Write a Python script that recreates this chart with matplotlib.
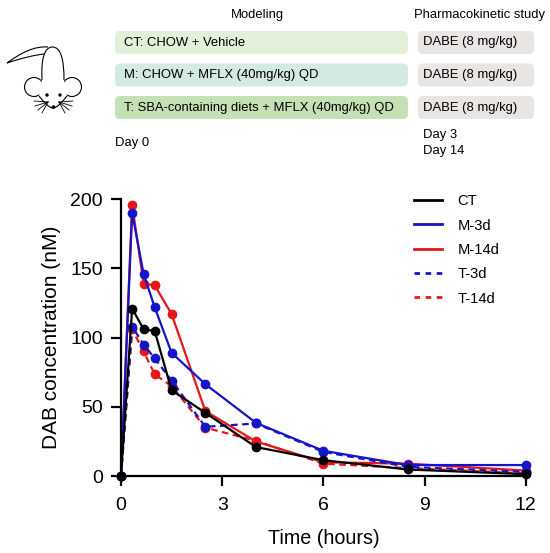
import matplotlib
matplotlib.use("Agg")
import matplotlib.pyplot as plt
from matplotlib.patches import FancyBboxPatch, Circle, PathPatch
from matplotlib.path import Path
from matplotlib.lines import Line2D

plt.rcParams['font.family'] = ['Liberation Sans', 'DejaVu Sans']

# sampling times (hours)
time_h = [0, 0.33, 0.67, 1, 1.5, 2.5, 4, 6, 8.5, 12]

# DAB concentration (nM)
ct = [0, 121, 106, 104.7, 62, 45.7, 21, 11.5, 4.8, 1.4]
m_3d = [0, 190, 146, 121.8, 89, 66.4, 38.5, 18.3, 8, 8]
m_14d = [0, 196, 139, 137.7, 117, 47, 25, 10, 9, 4]
t_3d = [0, 108, 95, 85, 69, 35.6, 38, 17.5, 6.7, 3]
t_14d = [0, 106, 90, 73.4, 65, 35, 25.5, 9, 5.8, 2]

group_labels = ["CT: CHOW + Vehicle",
                "M: CHOW + MFLX (40mg/kg) QD",
                "T: SBA-containing diets + MFLX (40mg/kg) QD"]
group_colors = ["#e2efd9", "#d4e9e2", "#c6e0b6"]
pk_label = "DABE (8 mg/kg)"

BLUE = "#1414c8"
RED = "#e5161c"

fig = plt.figure(figsize=(5.5, 5.53), dpi=100)

# ---- top schematic, drawn in pixel coords ----
top = fig.add_axes([0, 0, 1, 1])
top.set_xlim(0, 550)
top.set_ylim(553, 0)
top.axis('off')
top.patch.set_alpha(0)

top.text(257, 15, "Modeling", ha='center', va='center', fontsize=9.4)
top.text(479, 15, "Pharmacokinetic study", ha='center', va='center', fontsize=9.4)

box_tops = [31, 63.5, 96]
for y0, lab, col in zip(box_tops, group_labels, group_colors):
    top.add_patch(FancyBboxPatch((115, y0), 293, 23,
                                 boxstyle="round,pad=0,rounding_size=5",
                                 fc=col, ec='none'))
    top.text(124, y0 + 11.5, lab, ha='left', va='center', fontsize=9.4)
    top.add_patch(FancyBboxPatch((418, y0), 116, 23,
                                 boxstyle="round,pad=0,rounding_size=5",
                                 fc="#e9e5e2", ec='none'))
    top.text(423, y0 + 11.5, pk_label, ha='left', va='center', fontsize=9.4)

top.text(115, 143, "Day 0", ha='left', va='center', fontsize=9.4)
top.text(423, 135, "Day 3", ha='left', va='center', fontsize=9.4)
top.text(423, 151, "Day 14", ha='left', va='center', fontsize=9.4)

# mouse sketch
lw_m = 0.8
C4 = Path.CURVE4
tail = Path([(7, 63), (22, 52), (35, 46), (48, 47),
             (48, 50), (7, 63), (22, 58), (35, 55), (44, 54)],
            [Path.MOVETO, C4, C4, C4, Path.MOVETO, Path.MOVETO, C4, C4, C4])
top.add_patch(PathPatch(tail, fc='none', ec='k', lw=lw_m, zorder=1))
top.add_patch(Circle((34, 87), 9.5, fc='white', ec='k', lw=lw_m, zorder=2))
top.add_patch(Circle((72, 87), 9.5, fc='white', ec='k', lw=lw_m, zorder=2))
head = Path([(42, 80), (41, 60), (44, 47), (52.5, 47), (61, 47), (64, 60), (64, 80),
             (67, 96), (62, 102), (57, 108), (53, 108), (49, 108), (44, 102), (39, 96),
             (42, 80)],
            [Path.MOVETO, C4, C4, C4, C4, C4, C4,
             Path.LINETO, C4, C4, C4, C4, C4, C4, Path.CLOSEPOLY])
top.add_patch(PathPatch(head, fc='white', ec='none', zorder=3))
outline = Path([(42, 80), (41, 60), (44, 47), (52.5, 47), (61, 47), (64, 60), (64, 80),
                (39, 96), (44, 102), (49, 108), (53, 108), (57, 108), (62, 102), (67, 96)],
               [Path.MOVETO, C4, C4, C4, C4, C4, C4,
                Path.MOVETO, C4, C4, C4, C4, C4, C4])
top.add_patch(PathPatch(outline, fc='none', ec='k', lw=lw_m, zorder=4))
top.add_patch(Circle((47, 95), 1.7, fc='k', ec='none', zorder=5))
top.add_patch(Circle((60, 95), 1.7, fc='k', ec='none', zorder=5))
top.add_patch(Circle((53.5, 107), 1.8, fc='k', ec='none', zorder=5))
for ex, ey in [(34, 101), (35, 106), (38, 110), (42, 113)]:
    top.plot([48, ex], [102, ey], color='k', lw=0.6, zorder=5)
    top.plot([59, 107 - ex], [102, ey], color='k', lw=0.6, zorder=5)

# ---- PK curve ----
ax = fig.add_axes([0.22, 0.139, 0.736, 0.501])

series = [
    (m_14d, RED, '-', "M-14d"),
    (m_3d, BLUE, '-', "M-3d"),
    (t_14d, RED, '--', "T-14d"),
    (t_3d, BLUE, '--', "T-3d"),
    (ct, 'k', '-', "CT"),
]
for vals, col, ls, lab in series:
    ax.plot(time_h, vals, color=col, ls=ls, lw=1.6, marker='o', ms=6,
            label=lab, clip_on=False, dashes=(3, 2) if ls == '--' else (None, None))

ax.set_xlim(0, 12)
ax.set_ylim(0, 200)
ax.set_xticks([0, 3, 6, 9, 12])
ax.set_yticks([0, 50, 100, 150, 200])
ax.spines['top'].set_visible(False)
ax.spines['right'].set_visible(False)
for s in ['left', 'bottom']:
    ax.spines[s].set_linewidth(1.6)
ax.tick_params(width=1.6, length=7, pad=6, labelsize=14)
ax.tick_params(axis='x', pad=8)
ax.set_xlabel("Time (hours)", fontsize=14.2, labelpad=11)
ax.set_ylabel("DAB concentration (nM)", fontsize=15, labelpad=7)

handles = [
    Line2D([], [], color='k', lw=2),
    Line2D([], [], color=BLUE, lw=2),
    Line2D([], [], color=RED, lw=2),
    Line2D([], [], color=BLUE, lw=2, dashes=(2, 2)),
    Line2D([], [], color=RED, lw=2, dashes=(2, 2)),
]
ax.legend(handles, ["CT", "M-3d", "M-14d", "T-3d", "T-14d"],
          loc='upper left', bbox_to_anchor=(0.69, 1.065), frameon=False,
          fontsize=10.6, handlelength=1.9, labelspacing=0.7, handletextpad=1.1)

fig.savefig("out.png", dpi=100)
